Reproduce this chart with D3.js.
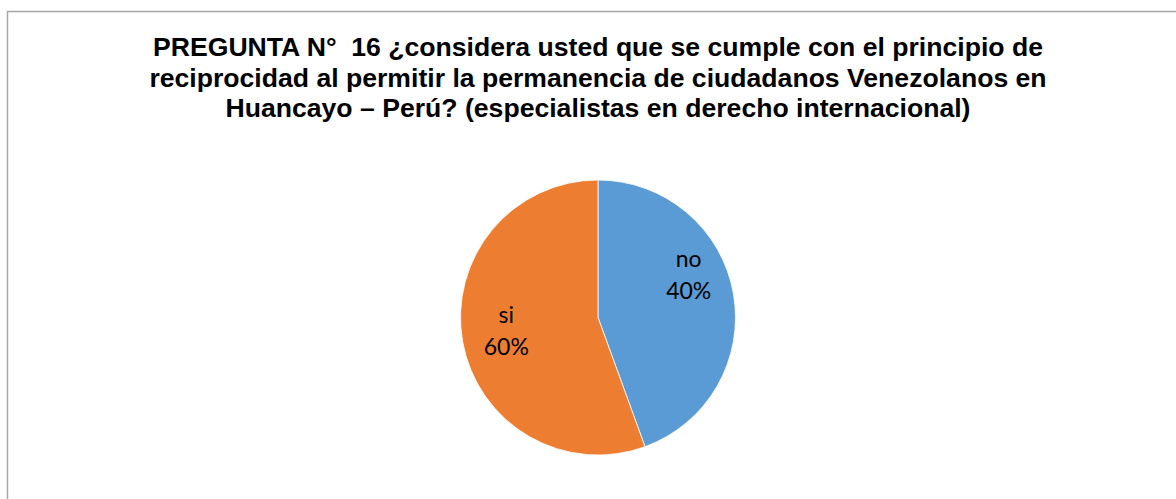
<!DOCTYPE html>
<html>
<head>
<meta charset="utf-8">
<script src="https://cdn.jsdelivr.net/npm/d3@7"></script>
<style>
  html, body { margin: 0; padding: 0; background: #fff; }
  svg { display: block; }
</style>
</head>
<body>
<div id="chart"></div>
<script>
// Chart data
const categories = ['no', 'si'];
const responses = [4, 5];
const percentLabels = ['40%', '60%'];
const titleLines = [
  'PREGUNTA N°  16 ¿considera usted que se cumple con el principio de',
  'reciprocidad al permitir la permanencia de ciudadanos Venezolanos en',
  'Huancayo – Perú? (especialistas en derecho internacional)'
];
const sliceColors = ['#5b9bd5', '#ed7d31'];

const width = 1176;
const height = 499;

const svg = d3.select('#chart').append('svg')
  .attr('width', width)
  .attr('height', height);

// Chart area border (right and bottom run off the picture)
svg.append('rect')
  .attr('x', 7.5)
  .attr('y', 11.5)
  .attr('width', width + 20)
  .attr('height', height + 20)
  .attr('fill', '#fff')
  .attr('stroke', '#a6a6a6')
  .attr('stroke-width', 1.5);

// Title
const title = svg.append('g')
  .selectAll('text')
  .data(titleLines)
  .join('text')
  .attr('x', 598)
  .attr('y', (d, i) => 56 + i * 30.5)
  .attr('text-anchor', 'middle')
  .style('white-space', 'pre')
  .style('font-family', '"Liberation Sans", Arial, sans-serif')
  .style('font-weight', 'bold')
  .style('font-size', '25px')
  .style('fill', '#000')
  .text(d => d);

// the original title font runs a bit wider, stretch to match first line width
const firstWidth = title.node().getComputedTextLength();
const stretch = 890 / firstWidth;
title.each(function() {
  const w = this.getComputedTextLength();
  d3.select(this)
    .attr('textLength', w * stretch)
    .attr('lengthAdjust', 'spacingAndGlyphs');
});

// Pie
const cx = 598, cy = 317.5, radius = 137.5;

const pie = d3.pie().sort(null).value(d => d.value);
const arc = d3.arc().innerRadius(0).outerRadius(radius);
const labelArc = d3.arc().innerRadius(radius * 0.67).outerRadius(radius * 0.67);

// Excel "best fit" label spots differ a bit from the plain centroid
const labelNudge = { no: [0, -28], si: [-1, -4] };

const pieData = pie(categories.map((c, i) => ({
  name: c,
  value: responses[i],
  label: percentLabels[i],
  color: sliceColors[i]
})));

const g = svg.append('g').attr('transform', `translate(${cx},${cy})`);

g.selectAll('path.slice')
  .data(pieData)
  .join('path')
  .attr('class', 'slice')
  .attr('d', arc)
  .attr('fill', d => d.data.color)
  .attr('stroke', '#fff')
  .attr('stroke-width', 0.8);

const labels = g.selectAll('text.slice-label')
  .data(pieData)
  .join('text')
  .attr('class', 'slice-label')
  .attr('transform', d => {
    const [x, y] = labelArc.centroid(d);
    const [nx, ny] = labelNudge[d.data.name] || [0, 0];
    return `translate(${x + nx},${y + ny})`;
  })
  .attr('text-anchor', 'middle')
  .style('font-family', 'Lato, "Open Sans", sans-serif')
  .style('font-size', '23px')
  .style('fill', '#000');

labels.append('tspan')
  .attr('x', 0)
  .attr('dy', '-0.3em')
  .text(d => d.data.name);

labels.append('tspan')
  .attr('x', 0)
  .attr('dy', '1.4em')
  .text(d => d.data.label);
</script>
</body>
</html>
